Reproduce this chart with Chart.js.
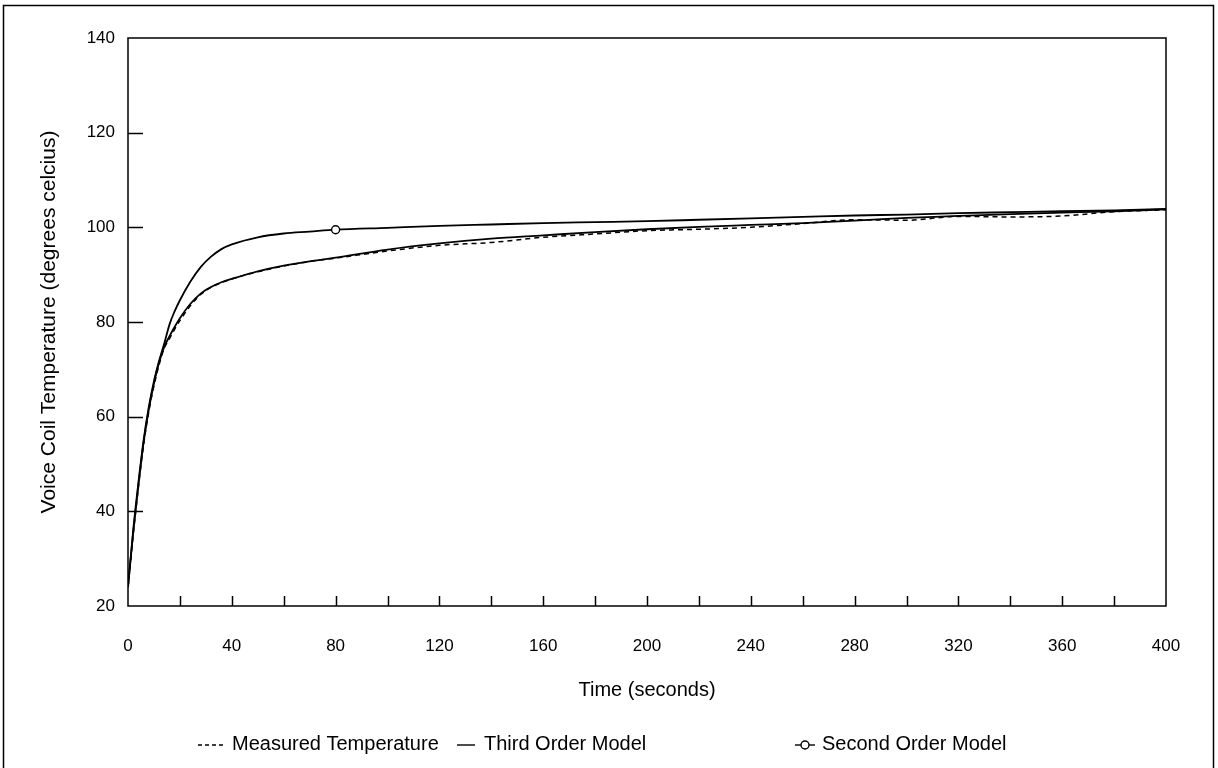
<!DOCTYPE html>
<html>
<head>
<meta charset="utf-8">
<script src="https://cdn.jsdelivr.net/npm/chart.js@4"></script>
<style>
  html, body { margin: 0; padding: 0; background: #fff; }
  #wrap { width: 1218px; height: 768px; }
</style>
</head>
<body>
<div id="wrap"><canvas id="chart" width="1218" height="768"></canvas></div>
<script>
// time (seconds)
const time = [0, 2, 4, 6, 8, 10, 12, 14, 16, 18, 20, 24, 28, 32, 36, 40, 50, 60, 70, 80,
  100, 120, 140, 160, 180, 200, 220, 240, 260, 280, 300, 320, 340, 360, 380, 400];

// voice coil temperature (degrees celcius)
const measured = [24, 35, 45, 54, 61, 66.5, 71, 74.5, 76.5, 78.5, 80.3, 83.4, 85.8, 87.3, 88.3, 89.1, 90.6, 91.8, 92.8, 93.5,
  95.0, 96.2, 96.8, 97.9, 98.6, 99.3, 99.6, 100.0, 100.8, 101.6, 101.5, 102.3, 102.2, 102.4, 103.3, 103.7];
const thirdOrder = [24, 35.5, 45.5, 54.5, 61.5, 67, 71.5, 74.8, 77, 79, 80.8, 83.8, 86, 87.4, 88.4, 89.1, 90.7, 91.9, 92.8, 93.6,
  95.3, 96.6, 97.6, 98.3, 99.0, 99.6, 100.1, 100.5, 100.9, 101.4, 102.0, 102.4, 102.8, 103.1, 103.4, 103.8];
const secondOrder = [24, 36, 46, 55, 62, 67.5, 71.8, 75.5, 79.5, 82.3, 84.6, 88.5, 91.6, 93.8, 95.4, 96.4, 97.9, 98.7, 99.1, 99.5,
  99.9, 100.3, 100.6, 100.9, 101.1, 101.3, 101.6, 101.9, 102.2, 102.5, 102.7, 103.0, 103.2, 103.4, 103.6, 103.9];
const markerTimes = [80];

const xTicks = [0, 40, 80, 120, 160, 200, 240, 280, 320, 360, 400];
const yTicks = [20, 40, 60, 80, 100, 120, 140];

const FONT = "'Liberation Sans', Arial, sans-serif";

function toPoints(values) {
  return time.map((t, i) => ({ x: t, y: values[i] }));
}

// plot box, inward tick marks, page frame and legend
const decorations = {
  id: "decorations",
  afterDraw(chart) {
    const { ctx, chartArea: a, scales: { x, y } } = chart;
    ctx.save();
    ctx.strokeStyle = "#000";
    ctx.lineWidth = 1.5;
    ctx.strokeRect(a.left, a.top, a.right - a.left, a.bottom - a.top);

    ctx.beginPath();
    for (let t = 20; t < 400; t += 20) {
      const px = Math.round(x.getPixelForValue(t)) + 0.5;
      ctx.moveTo(px, a.bottom);
      ctx.lineTo(px, a.bottom - 10);
    }
    yTicks.slice(1, -1).forEach(v => {
      const py = Math.round(y.getPixelForValue(v)) + 0.5;
      ctx.moveTo(a.left, py);
      ctx.lineTo(a.left + 15, py);
    });
    ctx.stroke();

    // outer frame (bottom edge is cut off in the scan)
    ctx.lineWidth = 1.5;
    ctx.beginPath();
    ctx.moveTo(3.5, 768);
    ctx.lineTo(3.5, 5.5);
    ctx.lineTo(1213.5, 5.5);
    ctx.lineTo(1213.5, 768);
    ctx.stroke();

    // legend
    const ly = 744;
    ctx.fillStyle = "#000";
    ctx.font = "20px " + FONT;
    ctx.textBaseline = "middle";
    ctx.lineWidth = 1.4;

    ctx.setLineDash([4, 3]);
    ctx.beginPath();
    ctx.moveTo(198, ly + 1);
    ctx.lineTo(224, ly + 1);
    ctx.stroke();
    ctx.setLineDash([]);
    ctx.fillText("Measured Temperature", 232, ly);

    ctx.beginPath();
    ctx.moveTo(457, ly + 1);
    ctx.lineTo(475, ly + 1);
    ctx.stroke();
    ctx.fillText("Third Order Model", 484, ly);

    ctx.beginPath();
    ctx.moveTo(795, ly + 1);
    ctx.lineTo(815, ly + 1);
    ctx.stroke();
    ctx.beginPath();
    ctx.arc(805, ly + 1, 4, 0, Math.PI * 2);
    ctx.fillStyle = "#fff";
    ctx.fill();
    ctx.stroke();
    ctx.fillStyle = "#000";
    ctx.fillText("Second Order Model", 822, ly);
    ctx.restore();
  }
};

const ctx = document.getElementById("chart").getContext("2d");

new Chart(ctx, {
  type: "line",
  data: {
    datasets: [
      {
        label: "Measured Temperature",
        data: toPoints(measured),
        borderColor: "#000",
        borderWidth: 1.5,
        borderDash: [5, 4],
        pointRadius: 0,
        cubicInterpolationMode: "monotone"
      },
      {
        label: "Third Order Model",
        data: toPoints(thirdOrder),
        borderColor: "#000",
        borderWidth: 1.8,
        pointRadius: 0,
        cubicInterpolationMode: "monotone"
      },
      {
        label: "Second Order Model",
        data: toPoints(secondOrder),
        borderColor: "#000",
        borderWidth: 1.8,
        backgroundColor: "#fff",
        pointBackgroundColor: "#fff",
        pointBorderColor: "#000",
        pointBorderWidth: 1.4,
        pointRadius: time.map(t => markerTimes.includes(t) ? 4 : 0),
        cubicInterpolationMode: "monotone"
      }
    ]
  },
  options: {
    responsive: false,
    animation: false,
    layout: { padding: { left: 0, top: 38, right: 52, bottom: 62 } },
    plugins: {
      legend: { display: false },
      tooltip: { enabled: false }
    },
    scales: {
      x: {
        type: "linear",
        min: 0,
        max: 400,
        afterBuildTicks: s => { s.ticks = xTicks.map(v => ({ value: v })); },
        afterFit: s => { s.height = 100; },
        grid: { display: false, drawTicks: false },
        border: { display: false },
        ticks: { color: "#000", font: { family: FONT, size: 17 }, padding: 30, maxRotation: 0 },
        title: {
          display: true,
          text: "Time (seconds)",
          color: "#000",
          font: { family: FONT, size: 20 },
          padding: { top: 0, bottom: 4 }
        }
      },
      y: {
        min: 20,
        max: 140,
        afterBuildTicks: s => { s.ticks = yTicks.map(v => ({ value: v })); },
        afterFit: s => { s.width = 128; },
        grid: { display: false, drawTicks: false },
        border: { display: false },
        ticks: { color: "#000", font: { family: FONT, size: 17 }, padding: 13 },
        title: {
          display: true,
          text: "Voice Coil Temperature (degrees celcius)",
          color: "#000",
          font: { family: FONT, size: 21 },
          padding: { top: 37, bottom: 0 }
        }
      }
    }
  },
  plugins: [decorations]
});
</script>
</body>
</html>
